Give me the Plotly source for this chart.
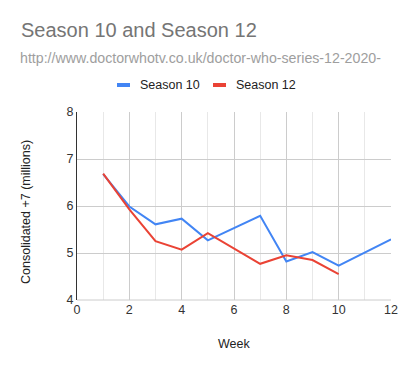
import plotly.graph_objects as go

weeks_s10 = [1, 2, 3, 4, 5, 6, 7, 8, 9, 10, 11, 12]
season10 = [6.68, 5.99, 5.61, 5.73, 5.27, 5.53, 5.79, 4.82, 5.02, 4.73, 5.01, 5.29]
weeks_s12 = [1, 2, 3, 4, 5, 6, 7, 8, 9, 10]
season12 = [6.69, 5.93, 5.25, 5.07, 5.42, 5.10, 4.77, 4.95, 4.85, 4.55]
series_names = ["Season 10", "Season 12"]
series_colors = ["#4285F4", "#EA4335"]

FONT = "Liberation Sans, Arial, sans-serif"
W, H = 410, 371
L, R, T, B = 77, 19, 112, 71
pw = W - L - R
ph = H - T - B


def px(xp):
    return (xp - L) / pw


def py(yp):
    return (H - B - yp) / ph


fig = go.Figure()
fig.add_trace(go.Scatter(x=weeks_s10, y=season10, mode="lines", name=series_names[0],
                         line=dict(color=series_colors[0], width=2)))
fig.add_trace(go.Scatter(x=weeks_s12, y=season12, mode="lines", name=series_names[1],
                         line=dict(color=series_colors[1], width=2)))

annotations = [
    dict(text="Season 10 and Season 12", x=px(19), y=py(30), xref="paper", yref="paper",
         showarrow=False, xanchor="left", yanchor="middle",
         font=dict(size=20, color="#757575", family=FONT)),
    dict(text="http://www.doctorwhotv.co.uk/doctor-who-series-12-2020-", x=px(18), y=py(58),
         xref="paper", yref="paper", showarrow=False, xanchor="left", yanchor="middle",
         font=dict(size=14.2, color="#9e9e9e", family=FONT)),
    dict(text="Consolidated +7 (millions)", x=px(26), y=py(212), xref="paper", yref="paper",
         showarrow=False, xanchor="center", yanchor="middle", textangle=-90,
         font=dict(size=12.5, color="#222222", family=FONT)),
    dict(text="Week", x=px(234), y=py(344), xref="paper", yref="paper",
         showarrow=False, xanchor="center", yanchor="middle",
         font=dict(size=12.5, color="#222222", family=FONT)),
]

# custom legend (sample swatch + label)
legend_x = [117, 213]
shapes = []
for name, color, lx in zip(series_names, series_colors, legend_x):
    shapes.append(dict(type="rect", xref="paper", yref="paper",
                       x0=px(lx), x1=px(lx + 13), y0=py(83), y1=py(87),
                       fillcolor=color, line=dict(width=0)))
    annotations.append(dict(text=name, x=px(lx + 21), y=py(85), xref="paper", yref="paper",
                            showarrow=False, xanchor="left", yanchor="middle",
                            font=dict(size=12.5, color="#222222", family=FONT)))

shapes.append(dict(type="line", xref="paper", yref="paper", x0=0, x1=1, y0=0, y1=0,
                   line=dict(color="#cccccc", width=1)))

fig.update_layout(
    width=W, height=H,
    margin=dict(l=L, r=R, t=T, b=B, autoexpand=False),
    paper_bgcolor="white", plot_bgcolor="white",
    font=dict(family=FONT, size=12, color="#222222"),
    showlegend=False,
    xaxis=dict(range=[0, 12], tickvals=[0, 2, 4, 6, 8, 10, 12], showgrid=True,
               gridcolor="#cccccc", gridwidth=1,
               minor=dict(dtick=1, showgrid=True, gridcolor="#e8e8e8", gridwidth=1),
               zeroline=False, showline=False, ticks="", automargin=False,
               tickfont=dict(size=12.5, color="#333333")),
    yaxis=dict(range=[4, 8], dtick=1, showgrid=True, gridcolor="#cccccc", gridwidth=1,
               zeroline=False, showline=True, linecolor="#333333", linewidth=1, ticks="",
               automargin=False,
               tickfont=dict(size=12.5, color="#333333")),
    annotations=annotations,
    shapes=shapes,
)

fig.write_html("out.html", config={"displayModeBar": False},
               post_script="document.body.style.margin='0';document.body.style.overflow='hidden';")
